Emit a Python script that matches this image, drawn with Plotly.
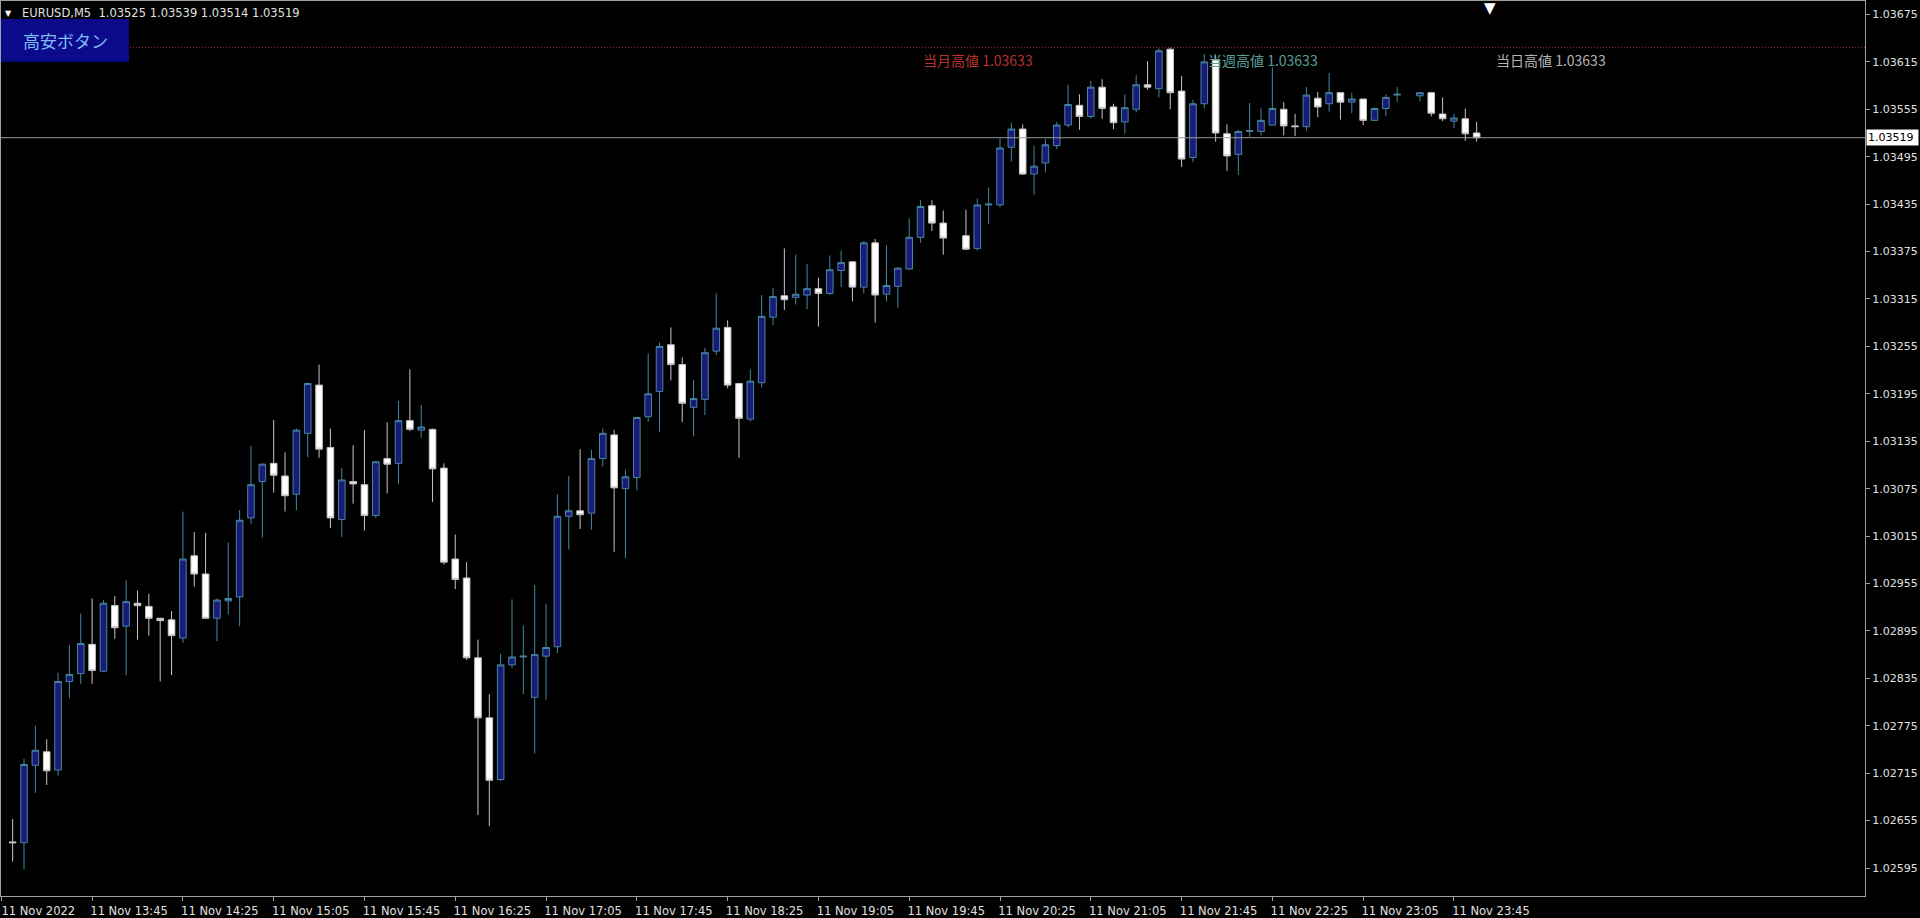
import plotly.graph_objects as go
from datetime import datetime, timedelta

# ---------------- data ----------------
symbol_text = "EURUSD,M5  1.03525 1.03539 1.03514 1.03519"
button_text = "高安ボタン"
bar_start = datetime(2022, 11, 11, 13, 5)
bar_minutes = 5

open_ = [
    None, 1.02628, 1.02627, 1.02725, 1.02742, 1.02719, 1.02831, 1.02841, 1.02878, 1.02844,
    1.02927, 1.02901, 1.02930, 1.02926, 1.02911, 1.02909, 1.02886, 1.02990, 1.02967, 1.02911,
    1.02933, 1.02938, 1.03038, 1.03084, 1.03107, 1.03091, 1.03068, 1.03145, 1.03206, 1.03127,
    1.03036, 1.03084, 1.03080, 1.03041, 1.03113, 1.03107, 1.03161, 1.03149, 1.03150, 1.03101,
    1.02986, 1.02962, 1.02861, 1.02785, 1.02707, 1.02852, 1.02862, 1.02811, 1.02863, 1.02875,
    1.03040, 1.03047, 1.03044, 1.03113, 1.03143, 1.03075, 1.03089, 1.03166, 1.03198, 1.03257,
    1.03232, 1.03178, 1.03188, 1.03249, 1.03279, 1.03208, 1.03163, 1.03209, 1.03292, 1.03319,
    1.03317, 1.03320, 1.03328, 1.03322, 1.03351, 1.03362, 1.03330, 1.03386, 1.03321, 1.03331,
    1.03353, 1.03393, 1.03433, 1.03411, None, 1.03395, 1.03379, 1.03434, 1.03434, 1.03507,
    1.03530, 1.03473, 1.03487, 1.03509, 1.03535, 1.03560, 1.03546, 1.03583, 1.03558, 1.03539,
    1.03555, 1.03586, 1.03581, 1.03631, 1.03578, 1.03494, 1.03562, 1.03617, 1.03524, 1.03498,
    1.03527, 1.03527, 1.03535, 1.03555, 1.03534, 1.03533, 1.03569, 1.03562, 1.03576, 1.03564,
    1.03568, 1.03541, 1.03556, 1.03573, None, 1.03572, 1.03576, 1.03549, 1.03540, 1.03543,
    1.03525,
]
high = [
    None, 1.02657, 1.02733, 1.02775, 1.02758, 1.02842, 1.02877, 1.02917, 1.02936, 1.02934,
    1.02939, 1.02959, 1.02946, 1.02942, 1.02911, 1.02920, 1.03046, 1.03020, 1.03019, 1.02936,
    1.03007, 1.03048, 1.03129, 1.03107, 1.03162, 1.03121, 1.03151, 1.03209, 1.03232, 1.03151,
    1.03101, 1.03130, 1.03149, 1.03110, 1.03159, 1.03186, 1.03226, 1.03181, 1.03151, 1.03107,
    1.03017, 1.02982, 1.02884, 1.02815, 1.02866, 1.02935, 1.02902, 1.02953, 1.02929, 1.03068,
    1.03091, 1.03125, 1.03124, 1.03151, 1.03149, 1.03099, 1.03166, 1.03246, 1.03260, 1.03279,
    1.03241, 1.03213, 1.03253, 1.03322, 1.03288, 1.03209, 1.03226, 1.03320, 1.03329, 1.03379,
    1.03371, 1.03359, 1.03342, 1.03370, 1.03376, 1.03363, 1.03388, 1.03391, 1.03383, 1.03355,
    1.03417, 1.03440, 1.03440, 1.03427, None, 1.03428, 1.03442, 1.03456, 1.03518, 1.03538,
    1.03536, 1.03509, 1.03517, 1.03539, 1.03586, 1.03574, 1.03591, 1.03593, 1.03562, 1.03574,
    1.03598, 1.03616, 1.03632, 1.03633, 1.03597, 1.03567, 1.03625, 1.03623, 1.03536, 1.03529,
    1.03563, 1.03557, 1.03608, 1.03564, 1.03549, 1.03583, 1.03577, 1.03601, 1.03576, 1.03576,
    1.03568, 1.03557, 1.03574, 1.03583, None, 1.03576, 1.03577, 1.03570, 1.03549, 1.03556,
    1.03539,
]
low = [
    None, 1.02603, 1.02593, 1.02690, 1.02700, 1.02712, 1.02810, 1.02828, 1.02828, 1.02843,
    1.02885, 1.02839, 1.02884, 1.02889, 1.02831, 1.02839, 1.02880, 1.02951, 1.02910, 1.02882,
    1.02916, 1.02901, 1.03030, 1.03013, 1.03070, 1.03046, 1.03048, 1.03115, 1.03114, 1.03025,
    1.03014, 1.03056, 1.03022, 1.03038, 1.03069, 1.03081, 1.03148, 1.03139, 1.03058, 1.02979,
    1.02948, 1.02858, 1.02662, 1.02648, 1.02705, 1.02848, 1.02815, 1.02740, 1.02808, 1.02867,
    1.02998, 1.03024, 1.03023, 1.03103, 1.02995, 1.02987, 1.03073, 1.03160, 1.03147, 1.03212,
    1.03159, 1.03141, 1.03168, 1.03244, 1.03202, 1.03114, 1.03160, 1.03203, 1.03282, 1.03301,
    1.03308, 1.03302, 1.03280, 1.03320, 1.03330, 1.03312, 1.03322, 1.03285, 1.03312, 1.03304,
    1.03352, 1.03386, 1.03401, 1.03371, None, 1.03377, 1.03376, 1.03410, 1.03431, 1.03489,
    1.03472, 1.03447, 1.03475, 1.03505, 1.03532, 1.03529, 1.03543, 1.03543, 1.03530, 1.03524,
    1.03551, 1.03580, 1.03570, 1.03555, 1.03482, 1.03488, 1.03556, 1.03514, 1.03477, 1.03472,
    1.03520, 1.03522, 1.03535, 1.03522, 1.03521, 1.03528, 1.03545, 1.03552, 1.03542, 1.03550,
    1.03535, 1.03540, 1.03546, 1.03564, None, 1.03565, 1.03546, 1.03540, 1.03531, 1.03515,
    1.03514,
]
close = [
    None, 1.02627, 1.02726, 1.02744, 1.02718, 1.02831, 1.02840, 1.02879, 1.02845, 1.02930,
    1.02899, 1.02932, 1.02927, 1.02911, 1.02908, 1.02889, 1.02986, 1.02967, 1.02911, 1.02934,
    1.02936, 1.03035, 1.03080, 1.03106, 1.03092, 1.03066, 1.03149, 1.03208, 1.03125, 1.03038,
    1.03086, 1.03081, 1.03041, 1.03109, 1.03106, 1.03161, 1.03150, 1.03153, 1.03100, 1.02982,
    1.02960, 1.02861, 1.02785, 1.02706, 1.02852, 1.02862, 1.02863, 1.02865, 1.02874, 1.03040,
    1.03047, 1.03042, 1.03113, 1.03145, 1.03076, 1.03090, 1.03165, 1.03195, 1.03255, 1.03232,
    1.03183, 1.03189, 1.03247, 1.03278, 1.03206, 1.03164, 1.03211, 1.03293, 1.03318, 1.03314,
    1.03321, 1.03328, 1.03322, 1.03352, 1.03361, 1.03330, 1.03386, 1.03320, 1.03332, 1.03354,
    1.03393, 1.03432, 1.03411, 1.03392, None, 1.03378, 1.03434, 1.03435, 1.03506, 1.03530,
    1.03473, 1.03483, 1.03510, 1.03535, 1.03561, 1.03546, 1.03583, 1.03556, 1.03538, 1.03557,
    1.03586, 1.03583, 1.03629, 1.03576, 1.03492, 1.03562, 1.03615, 1.03525, 1.03496, 1.03527,
    1.03528, 1.03541, 1.03556, 1.03534, 1.03533, 1.03573, 1.03558, 1.03576, 1.03564, 1.03568,
    1.03541, 1.03556, 1.03570, 1.03574, None, 1.03576, 1.03550, 1.03543, 1.03544, 1.03524,
    1.03519,
]

x_tick_times = [
    "2022-11-11 13:05", "2022-11-11 13:45", "2022-11-11 14:25", "2022-11-11 15:05",
    "2022-11-11 15:45", "2022-11-11 16:25", "2022-11-11 17:05", "2022-11-11 17:45",
    "2022-11-11 18:25", "2022-11-11 19:05", "2022-11-11 19:45", "2022-11-11 20:25",
    "2022-11-11 21:05", "2022-11-11 21:45", "2022-11-11 22:25", "2022-11-11 23:05",
    "2022-11-11 23:45",
]
x_tick_text = [
    "11 Nov 2022", "11 Nov 13:45", "11 Nov 14:25", "11 Nov 15:05", "11 Nov 15:45",
    "11 Nov 16:25", "11 Nov 17:05", "11 Nov 17:45", "11 Nov 18:25", "11 Nov 19:05",
    "11 Nov 19:45", "11 Nov 20:25", "11 Nov 21:05", "11 Nov 21:45", "11 Nov 22:25",
    "11 Nov 23:05", "11 Nov 23:45",
]
y_tick_vals = [
    1.02595, 1.02655, 1.02715, 1.02775, 1.02835, 1.02895, 1.02955, 1.03015, 1.03075,
    1.03135, 1.03195, 1.03255, 1.03315, 1.03375, 1.03435, 1.03495, 1.03555, 1.03615,
    1.03675,
]
y_tick_text = ["%.5f" % v for v in y_tick_vals]

high_level = 1.03633
level_labels = ["当月高値", "当週高値", "当日高値"]
level_times = ["2022-11-11 19:50", "2022-11-11 21:55", "2022-11-12 00:00"]
level_colors = ["#b8332f", "#5a9e98", "#b4b4b4"]
level_xshift = [0, 2, 6]

x_range = ["2022-11-11 13:04:51.8", "2022-11-12 02:46:06"]
y_range = [1.025596, 1.03692]
shift_marker_time = "2022-11-12 00:00"

assert len(open_) == len(high) == len(low) == len(close) == 131

times = [(bar_start + timedelta(minutes=bar_minutes * i)).strftime("%Y-%m-%d %H:%M")
         for i in range(len(open_))]
last_close = close[-1]

# ---------------- figure ----------------
BULL_FILL = "#1a1a78"
BULL_LINE = "#4587a0"
BEAR_FILL = "#ffffff"
BEAR_LINE = "#c4c4c4"
AXIS_COL = "#a0a0a0"
TEXT_COL = "#e0e0e0"
FONT = "DejaVu Sans"
CJK = "Noto Sans CJK JP"

fig = go.Figure()
fig.add_trace(go.Candlestick(
    x=times, open=open_, high=high, low=low, close=close,
    increasing=dict(fillcolor=BULL_FILL, line=dict(color=BULL_LINE, width=1)),
    decreasing=dict(fillcolor=BEAR_FILL, line=dict(color=BEAR_LINE, width=1)),
    whiskerwidth=0, showlegend=False, hoverinfo="skip",
))

shapes = [
    dict(type="line", xref="paper", x0=0, x1=1, yref="y", y0=high_level, y1=high_level,
         line=dict(color="#a82a2a", width=1, dash="1px,2px"), layer="above"),
    dict(type="line", xref="paper", x0=0, x1=1, yref="y", y0=last_close, y1=last_close,
         line=dict(color="#9a9a9a", width=1), layer="above"),
    dict(type="rect", xref="paper", x0=0, x1=128 / 1865, yref="paper",
         y0=1 - 61 / 897, y1=1 - 18 / 897, fillcolor="#0a0a8a", line=dict(width=0),
         layer="above"),
]

annotations = [
    dict(text="▼", xref="paper", x=0, xshift=7, yref="paper", y=1, yshift=-12,
         xanchor="center", yanchor="middle", showarrow=False,
         font=dict(family=FONT, size=8, color="#ffffff")),
    dict(text=symbol_text, xref="paper", x=0, xshift=19, yref="paper", y=1, yshift=-12,
         xanchor="left", yanchor="middle", showarrow=False,
         font=dict(family=FONT, size=11.5, color=TEXT_COL)),
    dict(text=button_text, xref="paper", x=0, xshift=64, yref="paper", y=1, yshift=-39,
         xanchor="center", yanchor="middle", showarrow=False,
         font=dict(family=CJK, size=17, color="#80bcf5")),
    dict(text="%.5f" % last_close, xref="paper", x=1, xshift=1, yref="y", y=last_close,
         xanchor="left", yanchor="middle", showarrow=False, bgcolor="#ffffff",
         borderpad=1, width=49, align="left",
         font=dict(family=FONT, size=11, color="#000000")),
    dict(text="▼", xref="x", x=shift_marker_time, xshift=2, yref="paper", y=1, yshift=4,
         xanchor="center", yanchor="top", showarrow=False,
         font=dict(family=FONT, size=15, color="#ffffff")),
]
for lab, t, col, xs in zip(level_labels, level_times, level_colors, level_xshift):
    annotations.append(dict(
        text="%s %.5f" % (lab, high_level), xref="x", x=t, xshift=xs, yref="y", y=high_level,
        xanchor="left", yanchor="top", showarrow=False,
        font=dict(family=CJK, size=14, color=col)))

fig.update_layout(
    width=1920, height=918,
    margin=dict(l=0, r=55, t=0, b=21),
    paper_bgcolor="#000000", plot_bgcolor="#000000",
    showlegend=False, hovermode=False,
    boxgap=0.42, boxgroupgap=0,
    shapes=shapes, annotations=annotations,
    xaxis=dict(
        type="date", range=x_range, rangeslider=dict(visible=False),
        showgrid=False, zeroline=False,
        showline=True, linecolor=AXIS_COL, linewidth=1, mirror=True,
        ticks="outside", ticklen=4, tickcolor=AXIS_COL,
        tickmode="array", tickvals=x_tick_times, ticktext=x_tick_text,
        ticklabelshift=37,
        tickfont=dict(family=FONT, size=11.5, color=TEXT_COL),
        fixedrange=True,
    ),
    yaxis=dict(
        side="right", range=y_range, showgrid=False, zeroline=False,
        showline=True, linecolor=AXIS_COL, linewidth=1, mirror=True,
        ticks="outside", ticklen=4, tickcolor=AXIS_COL,
        tickmode="array", tickvals=y_tick_vals, ticktext=y_tick_text,
        tickfont=dict(family=FONT, size=11, color=TEXT_COL),
        fixedrange=True,
    ),
)

fig.write_html(
    "out.html",
    config=dict(displayModeBar=False),
    post_script="document.body.style.margin='0';document.body.style.overflow='hidden';",
)
